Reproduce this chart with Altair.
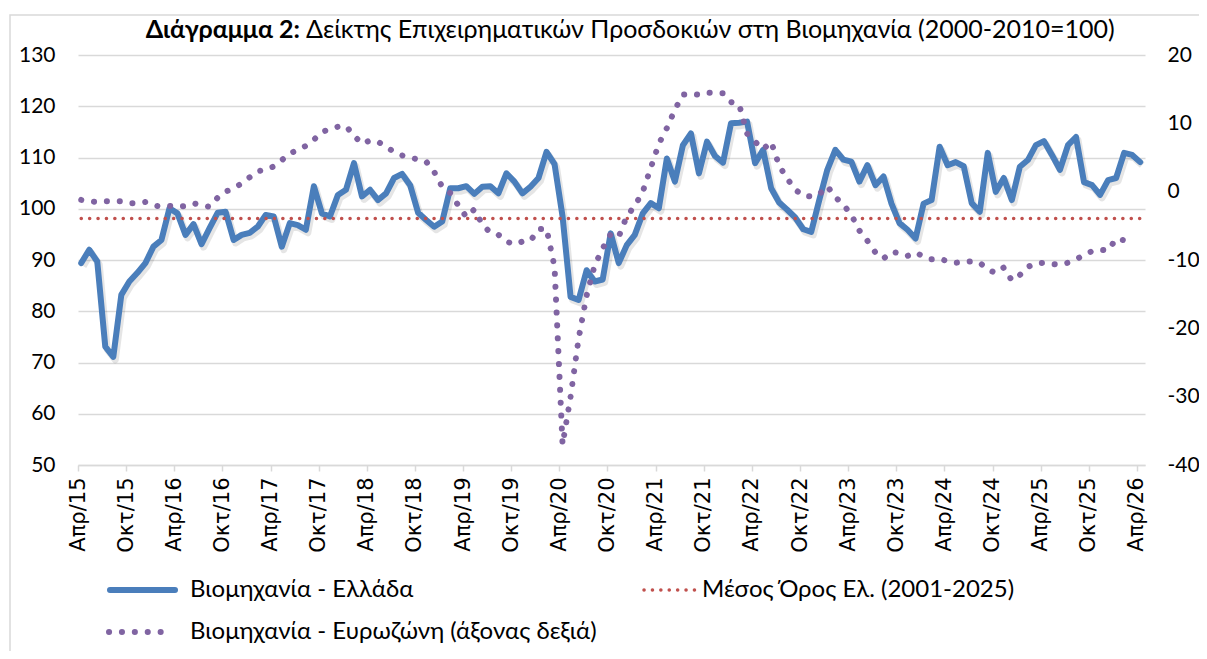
import json
import altair as alt
import pandas as pd

# ---------------- data ----------------
greece = [89.4, 92, 89.7, 73.1, 71.1, 83.2, 85.8, 87.5, 89.4, 92.6, 93.9, 100.1,
          99.1, 94.9, 97, 93.1, 96.2, 99.2, 99.4, 93.9, 94.9, 95.3, 96.5, 98.8,
          98.5, 92.6, 97.2, 96.8, 95.9, 104.4, 99.1, 98.5, 102.7, 103.7, 108.9, 102.4,
          103.7, 101.7, 103, 106, 106.8, 104.6, 99.2, 97.8, 96.5, 97.5, 104, 104,
          104.4, 102.9, 104.3, 104.4, 103, 106.9, 105.3, 103, 104.3, 106, 111.1, 108.7,
          98.5, 82.8, 82.2, 88, 85.8, 86.2, 95.2, 89.4, 92.9, 94.9, 99.1, 101.1,
          100.1, 109.8, 105.3, 112.4, 114.7, 106.9, 113.1, 110.3, 109, 116.7, 116.8, 117,
          108.9, 111.5, 104, 101.2, 99.8, 98.3, 96, 95.5, 101.7, 107.6, 111.5, 109.6,
          109.2, 105.3, 108.5, 104.6, 106.3, 101, 97.2, 95.9, 94.2, 101, 101.7, 112.1,
          108.5, 109.1, 108.3, 101.1, 99.4, 110.9, 103.3, 106, 101.7, 108.2, 109.5, 112.4,
          113.2, 110.5, 107.6, 112.4, 114, 105.2, 104.6, 102.7, 105.6, 106, 110.9, 110.5,
          109.1]

eurozone = [-1.2, -1.4, -1.5, -1.4, -1.4, -1.4, -1.7, -1.7, -1.5, -2.0, -2.2, -2.1,
            -2.2, -2.1, -1.7, -2.0, -2.2, -0.9, 0.0, 0.5, 1.2, 2.1, 3.0, 3.2,
            3.7, 4.6, 5.6, 6.1, 6.7, 7.6, 8.7, 9.2, 9.5, 9.6, 8.2, 7.0,
            7.5, 7.3, 6.6, 5.8, 5.3, 5.0, 4.7, 4.4, 2.9, 0.7, -0.2, -2.0,
            -3.7, -2.6, -4.8, -6.0, -6.3, -7.3, -7.7, -7.3, -7.2, -5.5, -5.4, -11.0,
            -37.0, -30.0, -21.5, -15.2, -10.8, -8.3, -6.2, -6.6, -3.6, -2.1, 0.0, 3.5,
            7.0, 9.3, 12.0, 14.2, 14.3, 14.2, 14.5, 14.4, 14.4, 13.1, 12.8, 8.5,
            7.3, 6.2, 7.3, 3.8, 1.9, 0.3, -0.6, -0.7, -0.4, 0.8, -0.8, -1.9,
            -3.4, -5.7, -7.2, -8.9, -9.8, -8.8, -9.0, -9.4, -8.9, -9.5, -9.9, -9.8,
            -10.2, -10.4, -10.3, -10.2, -10.4, -11.4, -11.9, -11.1, -13.0, -12.2, -11.0, -10.5,
            -10.4, -10.6, -10.7, -10.4, -9.9, -9.3, -8.7, -8.5, -8.6, -6.9, -7.1, -7.2]

greece_mean = 98.1

tick_labels = ["Απρ/15", "Οκτ/15", "Απρ/16", "Οκτ/16", "Απρ/17", "Οκτ/17",
               "Απρ/18", "Οκτ/18", "Απρ/19", "Οκτ/19", "Απρ/20", "Οκτ/20",
               "Απρ/21", "Οκτ/21", "Απρ/22", "Οκτ/22", "Απρ/23", "Οκτ/23",
               "Απρ/24", "Οκτ/24", "Απρ/25", "Οκτ/25", "Απρ/26"]
left_ticks = [50, 60, 70, 80, 90, 100, 110, 120, 130]
right_ticks = [-40, -30, -20, -10, 0, 10, 20]

legend_labels = ["Βιομηχανία  - Ελλάδα",
                 "Μέσος Όρος Ελ. (2001-2025)",
                 "Βιομηχανία - Ευρωζώνη (άξονας δεξιά)"]
title_bold = "Διάγραμμα 2:"
title_rest = "Δείκτης Επιχειρηματικών Προσδοκιών στη Βιομηχανία (2000-2010=100)"

# ---------------- styling ----------------
BLUE = "#4a7ebb"
RED = "#c0504d"
PURPLE = "#8064a2"
GRID = "#d9d9d9"
TXT = "#000000"
W, H = 1067, 410
MID = 0.4  # monthly values are plotted mid-month; ticks mark month starts

gr = pd.DataFrame({"t": [i + MID for i in range(len(greece))], "v": greece})
ez = pd.DataFrame({"t": [i + MID for i in range(len(eurozone))], "v": eurozone})
mean_df = pd.DataFrame({"t": [MID], "t2": [len(greece) - 1 + MID], "v": [greece_mean]})
one = pd.DataFrame({"d": [0]})

xscale = alt.Scale(domain=[0, 133], nice=False, zero=False)
label_expr = json.dumps(tick_labels, ensure_ascii=False) + "[round(datum.value / 6)]"
xaxis = alt.Axis(values=list(range(0, 133, 6)), labelExpr=label_expr, labelAngle=270,
                 labelAlign="right", labelBaseline="middle", labelFont="DejaVu Sans",
                 labelFontSize=21, labelColor=TXT, labelPadding=6, tickSize=6,
                 tickColor=GRID, tickWidth=1.5, domainColor=GRID, domainWidth=1.5,
                 grid=False, title=None, labelOverlap=False)
X = alt.X("t:Q", scale=xscale, axis=xaxis)
X2 = alt.X2("t2:Q")

num_expr = "datum.value < 0 ? '-' + abs(datum.value) : '' + datum.value"

ly_scale = alt.Scale(domain=[50, 130], nice=False, zero=False)
ly_axis = alt.Axis(values=left_ticks, orient="left", grid=True, gridColor=GRID, gridWidth=1.5,
                   domain=False, ticks=False, labelFont="Lato", labelFontSize=21,
                   labelColor=TXT, labelPadding=23, title=None)
LY = alt.Y("v:Q", scale=ly_scale, axis=ly_axis)

ry_scale = alt.Scale(domain=[-40, 20], nice=False, zero=False)
ry_axis = alt.Axis(values=right_ticks, orient="right", grid=False, domain=False, ticks=False,
                   labelFont="Lato", labelFontSize=21, labelColor=TXT, labelAlign="left",
                   labelExpr=num_expr, labelPadding=22, title=None)
RY = alt.Y("v:Q", scale=ry_scale, axis=ry_axis)

blue_shadow = alt.Chart(gr).mark_line(color="#000000", opacity=0.10, strokeWidth=7,
                                      strokeJoin="round", xOffset=2, yOffset=3).encode(x=X, y=LY)
blue_line = alt.Chart(gr).mark_line(color=BLUE, strokeWidth=6, strokeJoin="round",
                                    strokeCap="round").encode(x=X, y=LY)
mean_line = alt.Chart(mean_df).mark_rule(color=RED, strokeWidth=3.5, strokeDash=[0.1, 8.3],
                                         strokeCap="round").encode(x=X, x2=X2, y=LY)
left = alt.layer(blue_shadow, blue_line, mean_line)

ez_line = alt.Chart(ez).mark_line(color=PURPLE, strokeWidth=6, strokeDash=[0.1, 12.8],
                                  strokeCap="round", strokeJoin="round").encode(x=X, y=RY)
right = alt.layer(ez_line)

# frame, title and legend
frame = alt.Chart(one).mark_rect(fillOpacity=0, stroke=GRID, strokeWidth=1.5).encode(
    x=alt.value(-68), x2=alt.value(W + 200), y=alt.value(-40), y2=alt.value(H + 300))
t_bold = alt.Chart(one).mark_text(text=title_bold, font="Lato", fontSize=25, fontWeight="bold",
                                  align="right", baseline="alphabetic", color=TXT).encode(
    x=alt.value(222), y=alt.value(-17))
t_rest = alt.Chart(one).mark_text(text=title_rest, font="Lato", fontSize=25,
                                  align="left", baseline="alphabetic", color=TXT).encode(
    x=alt.value(228), y=alt.value(-17))

LG_FONT = 24
lg_blue = alt.Chart(one).mark_rule(color=BLUE, strokeWidth=6, strokeCap="round").encode(
    x=alt.value(32), x2=alt.value(97), y=alt.value(535))
lg_red = alt.Chart(one).mark_rule(color=RED, strokeWidth=3.5, strokeDash=[0.1, 8.3],
                                  strokeCap="round").encode(
    x=alt.value(566), x2=alt.value(620), y=alt.value(535))
lg_purple = alt.Chart(one).mark_rule(color=PURPLE, strokeWidth=6, strokeDash=[0.1, 12.8],
                                     strokeCap="round").encode(
    x=alt.value(31), x2=alt.value(84), y=alt.value(577))
lg_t1 = alt.Chart(one).mark_text(text=legend_labels[0], font="Lato", fontSize=LG_FONT, align="left",
                                 baseline="middle", color=TXT).encode(x=alt.value(112), y=alt.value(535))
lg_t2 = alt.Chart(one).mark_text(text=legend_labels[1], font="Lato", fontSize=LG_FONT, align="left",
                                 baseline="middle", color=TXT).encode(x=alt.value(624), y=alt.value(535))
lg_t3 = alt.Chart(one).mark_text(text=legend_labels[2], font="Lato", fontSize=LG_FONT, align="left",
                                 baseline="middle", color=TXT).encode(x=alt.value(112), y=alt.value(577))
deco = alt.layer(frame, t_bold, t_rest, lg_blue, lg_red, lg_purple, lg_t1, lg_t2, lg_t3)

chart = alt.layer(left, right, deco).resolve_scale(y="independent").properties(
    width=W, height=H,
    padding={"left": 70, "top": 47, "right": 54, "bottom": 186},
    autosize=alt.AutoSizeParams(type="none"),
    background="white",
).configure_view(stroke=None)

chart.save("out.html", embed_options={"renderer": "svg", "actions": False})
